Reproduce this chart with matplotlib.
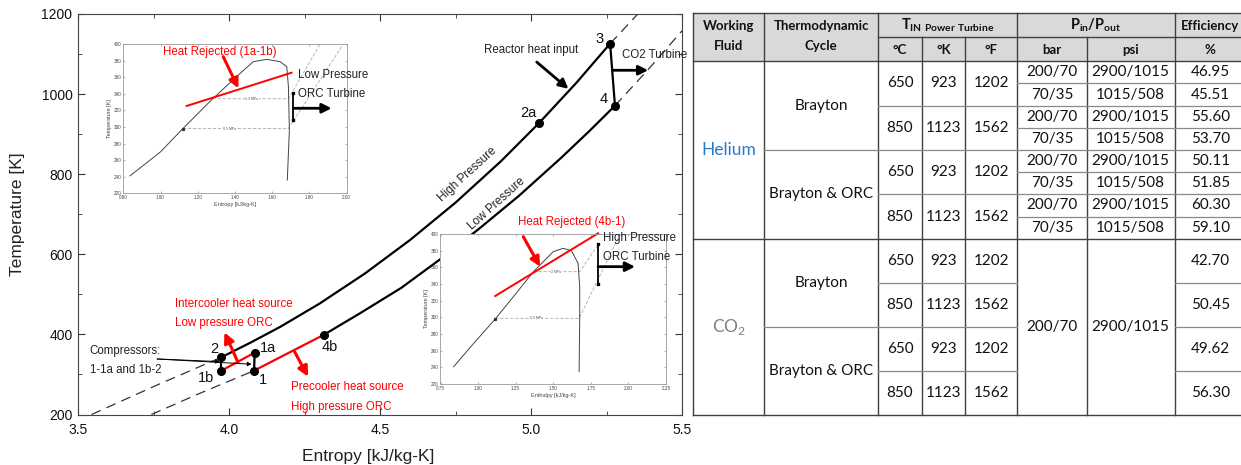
import matplotlib
matplotlib.use("Agg")
import matplotlib.pyplot as plt
import numpy as np
from matplotlib.ticker import MultipleLocator, FormatStrFormatter
from matplotlib.patches import Rectangle

plt.rcParams['font.family'] = ['Liberation Sans', 'DejaVu Sans']
plt.rcParams['mathtext.fontset'] = 'custom'
plt.rcParams['mathtext.rm'] = 'Lato'
plt.rcParams['mathtext.bf'] = 'Lato:bold'

W, H = 1241, 465

#################################
# T-s diagram data (read off)   #
#################################
states = ["1", "1a", "1b", "2", "2a", "3", "4", "4b"]
state_s = [4.083, 4.085, 3.975, 3.975, 5.027, 5.262, 5.278, 4.314]
state_T = [309.5, 354.5, 309.5, 343, 928, 1126, 971, 399]

# high pressure isobar (solid part 2 -> 3)
hp_s = [3.975, 4.07, 4.17, 4.30, 4.45, 4.60, 4.75, 4.90, 5.027, 5.15, 5.262]
hp_T = [343, 379, 419, 477, 552, 636, 729, 832, 928, 1028, 1126]
# low pressure isobar (solid part 4b -> 4)
lp_s = [4.314, 4.43, 4.57, 4.70, 4.83, 4.96, 5.10, 5.195, 5.278]
lp_T = [399, 451, 516, 588, 665, 746, 841, 909, 971]
# dashed continuations
hp_lo_s = [3.545, 3.76, 3.975]
hp_lo_T = [200, 273, 343]
lp_lo_s = [3.743, 3.91, 4.083]
lp_lo_T = [200, 255, 309.5]
hp_hi_s = [5.262, 5.36]
hp_hi_T = [1126, 1205]
lp_hi_s = [5.278, 5.39, 5.50]
lp_hi_T = [971, 1063, 1158]

# ORC inset 1 (low pressure ORC)
dome1_s = [0.836, 1.00, 1.12, 1.28, 1.42, 1.498, 1.570, 1.642, 1.678, 1.687, 1.692, 1.681]
dome1_T = [241, 270, 298, 334, 363, 378.7, 381.5, 378.7, 372.7, 348.6, 296, 236]
iso1_hi_s = [1.28, 1.687, 1.857]
iso1_hi_T = [334, 334, 400]
iso1_lo_s = [1.12, 1.687, 1.982]
iso1_lo_T = [298, 298, 400]

# ORC inset 2 (high pressure ORC)
dome2_h = [0.838, 0.971, 1.114, 1.235, 1.368, 1.50, 1.566, 1.621, 1.665, 1.676, 1.676, 1.672]
dome2_T = [240.8, 268.8, 298, 324.8, 354.8, 378.8, 382.8, 380, 364.8, 336.8, 296.8, 234.8]
iso2_hi_h = [1.368, 1.676, 1.804]
iso2_hi_T = [354.8, 354.8, 388.8]
iso2_lo_h = [1.114, 1.672, 1.941]
iso2_lo_T = [298.8, 298.8, 398.8]

#################################
# table data                    #
#################################
fluids = ["Helium", "CO$_\\mathregular{2}$"]
cycles = ["Brayton", "Brayton & ORC"]
t_c = [650, 850]
t_k = [923, 1123]
t_f = [1202, 1562]
he_bar = ["200/70", "70/35"]
he_psi = ["2900/1015", "1015/508"]
co2_bar = "200/70"
co2_psi = "2900/1015"
he_eff = ["46.95", "45.51", "55.60", "53.70", "50.11", "51.85", "60.30", "59.10"]
co2_eff = ["42.70", "50.45", "49.62", "56.30"]


def frac(left, top, right, bottom):
    return [left / W, 1 - bottom / H, (right - left) / W, (bottom - top) / H]


fig = plt.figure(figsize=(W / 100, H / 100), dpi=100)

#################################
# main T-s diagram              #
#################################
ax = fig.add_axes(frac(78, 14, 682, 414.5))
ax.set_xlim(3.5, 5.5)
ax.set_ylim(200, 1200)
ax.xaxis.set_major_locator(MultipleLocator(0.5))
ax.xaxis.set_minor_locator(MultipleLocator(0.25))
ax.yaxis.set_major_locator(MultipleLocator(200))
ax.yaxis.set_minor_locator(MultipleLocator(100))
ax.xaxis.set_major_formatter(FormatStrFormatter('%.1f'))
ax.tick_params(which='both', direction='in', top=True, right=True, colors='#333333', labelsize=10)
ax.tick_params(which='major', length=5)
ax.tick_params(which='minor', length=3)
ax.tick_params(axis='x', pad=6, labelcolor='#111111')
ax.tick_params(axis='y', pad=4, labelcolor='#111111')
for sp in ax.spines.values():
    sp.set_color('#444444')
    sp.set_linewidth(0.8)
ax.set_xlabel("Entropy [kJ/kg-K]", fontsize=12.5, color='#222222')
ax.set_ylabel("Temperature [K]", fontsize=12.5, color='#222222')
ax.xaxis.set_label_coords(0.48, -0.085)
ax.yaxis.set_label_coords(-0.088, 0.5)

dash = dict(color='#333333', lw=0.9, dashes=(8, 5))
ax.plot(hp_lo_s, hp_lo_T, **dash)
ax.plot(lp_lo_s, lp_lo_T, **dash)
ax.plot(hp_hi_s, hp_hi_T, **dash)
ax.plot(lp_hi_s, lp_hi_T, **dash)
ax.plot(hp_s, hp_T, color='k', lw=1.6)
ax.plot(lp_s, lp_T, color='k', lw=1.6)

st = dict(zip(states, zip(state_s, state_T)))
for a, b, c in [("1", "1a", 'k'), ("1b", "2", 'k'), ("3", "4", 'k'),
                ("1b", "1a", 'red'), ("1", "4b", 'red')]:
    ax.plot([st[a][0], st[b][0]], [st[a][1], st[b][1]], color=c, lw=1.6)
ax.plot(state_s, state_T, 'o', color='k', ms=5.5, zorder=5)

label_pos = {"1": (4.113, 286), "1a": (4.129, 365.5), "1b": (3.925, 290.5), "2": (3.950, 363),
             "2a": (4.99, 954), "3": (5.228, 1138), "4": (5.242, 988), "4b": (4.333, 368)}
for name in states:
    ax.text(*label_pos[name], name, fontsize=10.5, ha='center', va='center', color='#111111')

small = dict(fontsize=8.3, color='#222222', va='center')
ax.text(4.999, 1109, "Reactor heat input", ha='center', **small)
ax.text(5.30, 1097, "CO2 Turbine", ha='left', **small)
ax.text(3.539, 359, "Compressors:", ha='left', **small)
ax.text(3.539, 311, "1-1a and 1b-2", ha='left', **small)
red = dict(fontsize=8.3, color='red', va='center', ha='left')
ax.text(3.822, 476, "Intercooler heat source", **red)
ax.text(3.822, 428, "Low pressure ORC", **red)
ax.text(4.206, 268, "Precooler heat source", **red)
ax.text(4.206, 219.5, "High pressure ORC", **red)
ax.text(4.789, 799, "High Pressure", rotation=42.5, ha='center', va='center', fontsize=8.5, color='#222222')
ax.text(4.888, 726, "Low Pressure", rotation=42, ha='center', va='center', fontsize=8.5, color='#222222')


def arrow(a, xy_head, xy_tail, color, lw, ms):
    a.annotate("", xy=xy_head, xytext=xy_tail, annotation_clip=False,
               arrowprops=dict(arrowstyle='-|>', color=color, lw=lw, mutation_scale=ms,
                               shrinkA=0, shrinkB=0))


arrow(ax, (5.124, 1013), (5.019, 1080), 'k', 2.0, 14)
arrow(ax, (5.388, 1059.5), (5.270, 1059.5), 'k', 2.0, 14)
arrow(ax, (3.985, 405), (4.03, 330), 'red', 2.2, 15)
arrow(ax, (4.262, 294.5), (4.217, 357), 'red', 2.2, 15)
arrow(ax, (3.970, 332), (3.762, 338.6), 'k', 0.7, 6)
arrow(ax, (4.075, 325.5), (3.762, 338.6), 'k', 0.7, 6)


def style_inset(a, xlim, xstep, xlabel):
    a.set_xlim(*xlim)
    a.set_ylim(220, 400)
    a.xaxis.set_major_locator(MultipleLocator(xstep))
    a.yaxis.set_major_locator(MultipleLocator(20))
    a.xaxis.set_major_formatter(FormatStrFormatter('%.2f'))
    a.tick_params(which='both', direction='in', top=True, right=True, length=1.5, width=0.4,
                  labelsize=3.3, pad=1.2, colors='#777777', labelcolor='#444444')
    for sp in a.spines.values():
        sp.set_color('#999999')
        sp.set_linewidth(0.6)
    a.set_xlabel(xlabel, fontsize=4, color='#444444', labelpad=1.5)
    a.set_ylabel("Temperature [K]", fontsize=4, color='#444444', labelpad=1.5)


iso = dict(color='#aaaaaa', lw=0.6, dashes=(4, 2))

# inset 1: low pressure ORC
ax1 = fig.add_axes(frac(123.3, 44, 346.7, 193.3))
style_inset(ax1, (0.80, 2.00), 0.2, "Entropy [kJ/kg-K]")
ax1.plot(iso1_hi_s, iso1_hi_T, **iso)
ax1.plot(iso1_lo_s, iso1_lo_T, **iso)
ax1.plot(dome1_s, dome1_T, color='#444444', lw=0.7)
ax1.plot([dome1_s[2]], [dome1_T[2]], 's', color='#333333', ms=1.3)
ax1.text(1.49, 334, "1.3 MPa", fontsize=2.5, ha='center', va='center', color='#555555',
         bbox=dict(fc='white', ec='none', pad=0.3))
ax1.text(1.37, 298, "0.5 MPa", fontsize=2.5, ha='center', va='center', color='#555555',
         bbox=dict(fc='white', ec='none', pad=0.3))
ax1.plot([1.140, 1.704], [325.3, 365.4], color='red', lw=1.4)
arrow(ax1, (1.418, 346.6), (1.337, 384.7), 'red', 2.2, 14)
ax1.plot([1.713, 1.713], [308.4, 341.3], color='k', lw=1.3, marker='s', ms=1.5)
arrow(ax1, (1.919, 322.5), (1.713, 322.5), 'k', 2.0, 14)
ax1.text(1.015, 390, "Heat Rejected (1a-1b)", fontsize=8.3, color='red', va='center', ha='left')
ax1.text(1.740, 362.6, "Low Pressure", fontsize=8.3, color='#222222', va='center', ha='left', clip_on=False)
ax1.text(1.740, 339.7, "ORC Turbine", fontsize=8.3, color='#222222', va='center', ha='left', clip_on=False)

# inset 2: high pressure ORC
ax2 = fig.add_axes(frac(440.5, 234, 666, 384))
style_inset(ax2, (0.75, 2.25), 0.25, "Enthalpy [kJ/kg-K]")
ax2.plot(iso2_hi_h, iso2_hi_T, **iso)
ax2.plot(iso2_lo_h, iso2_lo_T, **iso)
ax2.plot(dome2_h, dome2_T, color='#444444', lw=0.7)
ax2.plot([dome2_h[2]], [dome2_T[2]], 's', color='#333333', ms=1.3)
ax2.text(1.52, 354.8, "2 MPa", fontsize=2.5, ha='center', va='center', color='#555555',
         bbox=dict(fc='white', ec='none', pad=0.3))
ax2.text(1.39, 298.8, "0.5 MPa", fontsize=2.5, ha='center', va='center', color='#555555',
         bbox=dict(fc='white', ec='none', pad=0.3))
ax2.plot([1.114, 1.798], [325.6, 400.8], color='red', lw=1.4, clip_on=False)
arrow(ax2, (1.412, 360.8), (1.301, 396.8), 'red', 2.2, 14)
ax2.plot([1.798, 1.798], [340, 388], color='k', lw=1.3, marker='s', ms=1.5)
arrow(ax2, (2.044, 360.8), (1.798, 360.8), 'k', 2.0, 14)
ax2.text(1.623, 414.8, "Heat Rejected (4b-1)", fontsize=8.3, color='red', va='center', ha='center', clip_on=False)
ax2.text(1.833, 394.8, "High Pressure", fontsize=8.3, color='#222222', va='center', ha='left', clip_on=False)
ax2.text(1.833, 372, "ORC Turbine", fontsize=8.3, color='#222222', va='center', ha='left', clip_on=False)

#################################
# table                         #
#################################
tab = fig.add_axes([0, 0, 1, 1])
tab.set_xlim(0, W)
tab.set_ylim(H, 0)
tab.axis('off')

cols = [693.3, 764, 878.3, 921.7, 965, 1017.3, 1086.5, 1174.5, 1246]
top, sub, hb, he_end, bottom = 13.3, 37.3, 61.3, 238.7, 414.5
he_rows = np.linspace(hb, he_end, 9)
co_rows = np.linspace(he_end, bottom, 5)
dark = dict(color='#404040', lw=1.0)
light = dict(color='#8a8a8a', lw=0.9)

tab.add_patch(Rectangle((cols[0], top), cols[-1] - cols[0], hb - top, color='#d9d9d9', lw=0))
for y in [top, hb, he_end, bottom]:
    tab.plot([cols[0], cols[-1]], [y, y], **dark)
tab.plot([cols[2], cols[-1]], [sub, sub], **dark)
for i in [0, 1, 2, 5, 7]:
    tab.plot([cols[i], cols[i]], [top, bottom], **dark)
for i in [3, 4, 6]:
    tab.plot([cols[i], cols[i]], [sub, bottom], **dark)
for i in range(1, 8):
    y = he_rows[i]
    tab.plot([cols[5], cols[-1]], [y, y], **light)
    if i % 2 == 0:
        tab.plot([cols[2], cols[5]], [y, y], **light)
    if i == 4:
        tab.plot([cols[1], cols[2]], [y, y], **light)
for i in range(1, 4):
    y = co_rows[i]
    tab.plot([cols[2], cols[5]], [y, y], **light)
    tab.plot([cols[7], cols[-1]], [y, y], **light)
    if i == 2:
        tab.plot([cols[1], cols[2]], [y, y], **light)


def cell(x0, x1, y, s, **kw):
    kw.setdefault('fontsize', 11)
    tab.text((x0 + x1) / 2, y, s, ha='center', va='center', family='Lato', **kw)


hd = dict(fontsize=9.5, fontweight='bold', color='#111111')
cell(cols[0], cols[1], 26.5, "Working", **hd)
cell(cols[0], cols[1], 46.5, "Fluid", **hd)
cell(cols[1], cols[2], 26.5, "Thermodynamic", **hd)
cell(cols[1], cols[2], 46.5, "Cycle", **hd)
cell(cols[2], cols[5], 25.5, r"$\mathbf{T_{IN\ Power\ Turbine}}$", fontsize=10.5, color='#111111')
cell(cols[5], cols[7], 25.5, r"$\mathbf{P_{in}/P_{out}}$", fontsize=10.5, color='#111111')
cell(cols[7], cols[8], 25.5, "Efficiency", **hd)
for i, u in enumerate(["°C", "°K", "°F", "bar", "psi"]):
    cell(cols[2 + i], cols[3 + i], 49.5, u, **hd)
cell(cols[7], cols[8], 49.5, "%", **hd)

body = dict(color='#111111')
# Helium
cell(cols[0], cols[1], (hb + he_end) / 2, fluids[0], fontsize=12.5, color='#2a7ac7')
for c in range(2):
    yc = (he_rows[4 * c] + he_rows[4 * c + 4]) / 2
    cell(cols[1], cols[2], yc, cycles[c], **body)
    for t in range(2):
        r0 = 4 * c + 2 * t
        yt = (he_rows[r0] + he_rows[r0 + 2]) / 2
        cell(cols[2], cols[3], yt, str(t_c[t]), **body)
        cell(cols[3], cols[4], yt, str(t_k[t]), **body)
        cell(cols[4], cols[5], yt, str(t_f[t]), **body)
        for p in range(2):
            yr = (he_rows[r0 + p] + he_rows[r0 + p + 1]) / 2
            cell(cols[5], cols[6], yr, he_bar[p], **body)
            cell(cols[6], cols[7], yr, he_psi[p], **body)
            cell(cols[7], cols[8], yr, he_eff[r0 + p], **body)
# CO2
cell(cols[0], cols[1], (he_end + bottom) / 2, fluids[1], fontsize=12.5, color='#7f7f7f')
cell(cols[5], cols[6], (he_end + bottom) / 2, co2_bar, **body)
cell(cols[6], cols[7], (he_end + bottom) / 2, co2_psi, **body)
for c in range(2):
    cell(cols[1], cols[2], co_rows[2 * c + 1], cycles[c], **body)
    for t in range(2):
        r = 2 * c + t
        yr = (co_rows[r] + co_rows[r + 1]) / 2
        cell(cols[2], cols[3], yr, str(t_c[t]), **body)
        cell(cols[3], cols[4], yr, str(t_k[t]), **body)
        cell(cols[4], cols[5], yr, str(t_f[t]), **body)
        cell(cols[7], cols[8], yr, co2_eff[r], **body)

fig.savefig("out.png", dpi=100)
